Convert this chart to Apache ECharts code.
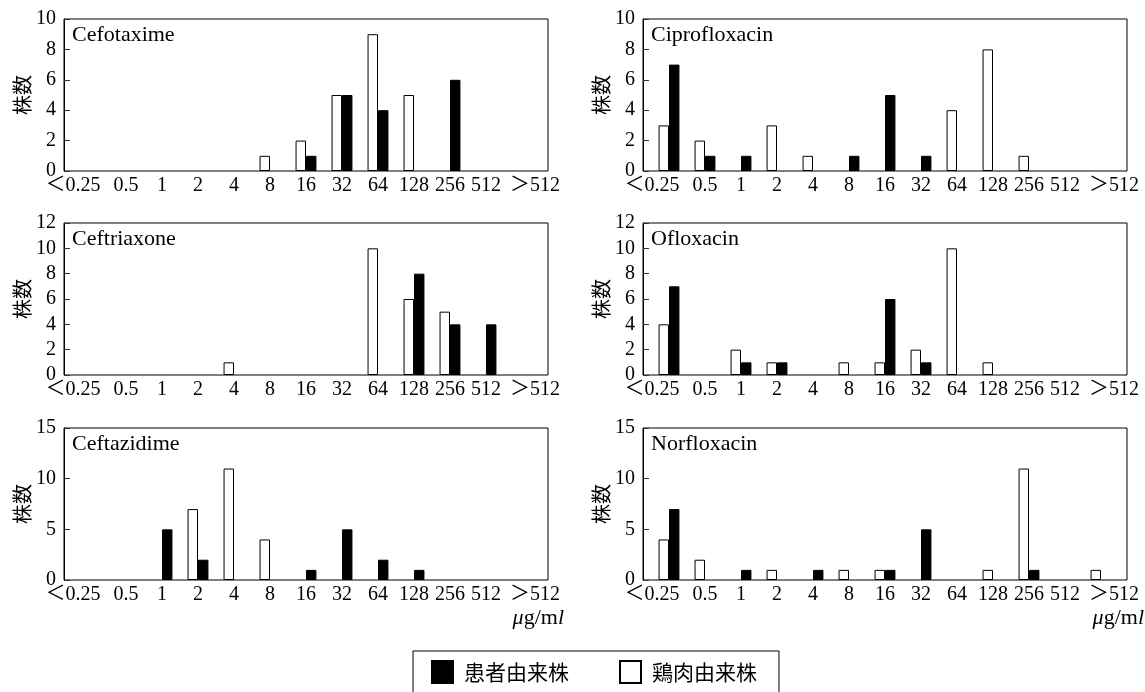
<!DOCTYPE html>
<html lang="ja">
<head>
<meta charset="utf-8">
<title>MIC distribution</title>
<script src="https://cdn.jsdelivr.net/npm/echarts@6/dist/echarts.min.js"></script>
<style>
  html, body { margin: 0; padding: 0; background: #fff; }
  #chart { width: 1145px; height: 692px; }
</style>
</head>
<body>
<div id="chart"></div>
<script>
const categories = ['＜0.25', '0.5', '1', '2', '4', '8', '16', '32', '64', '128', '256', '512', '＞512'];
const drugNames = ['Cefotaxime', 'Ciprofloxacin', 'Ceftriaxone', 'Ofloxacin', 'Ceftazidime', 'Norfloxacin'];

// 鶏肉由来株 (white) / 患者由来株 (black), counts per MIC category
const cefotaximeChicken = [0, 0, 0, 0, 0, 1, 2, 5, 9, 5, 0, 0, 0];
const cefotaximePatient = [0, 0, 0, 0, 0, 0, 1, 5, 4, 0, 6, 0, 0];
const ciprofloxacinChicken = [3, 2, 0, 3, 1, 0, 0, 0, 4, 8, 1, 0, 0];
const ciprofloxacinPatient = [7, 1, 1, 0, 0, 1, 5, 1, 0, 0, 0, 0, 0];
const ceftriaxoneChicken = [0, 0, 0, 0, 1, 0, 0, 0, 10, 6, 5, 0, 0];
const ceftriaxonePatient = [0, 0, 0, 0, 0, 0, 0, 0, 0, 8, 4, 4, 0];
const ofloxacinChicken = [4, 0, 2, 1, 0, 1, 1, 2, 10, 1, 0, 0, 0];
const ofloxacinPatient = [7, 0, 1, 1, 0, 0, 6, 1, 0, 0, 0, 0, 0];
const ceftazidimeChicken = [0, 0, 0, 7, 11, 4, 0, 0, 0, 0, 0, 0, 0];
const ceftazidimePatient = [0, 0, 5, 2, 0, 0, 1, 5, 2, 1, 0, 0, 0];
const norfloxacinChicken = [4, 2, 0, 1, 0, 1, 1, 0, 0, 1, 11, 0, 1];
const norfloxacinPatient = [7, 0, 1, 0, 1, 0, 1, 5, 0, 0, 1, 0, 0];

const yMax = [10, 10, 12, 12, 15, 15];
const yStep = [2, 2, 2, 2, 5, 5];

const chickenData = [cefotaximeChicken, ciprofloxacinChicken, ceftriaxoneChicken, ofloxacinChicken, ceftazidimeChicken, norfloxacinChicken];
const patientData = [cefotaximePatient, ciprofloxacinPatient, ceftriaxonePatient, ofloxacinPatient, ceftazidimePatient, norfloxacinPatient];

const SERIF = "'Liberation Serif', 'Noto Sans CJK JP', serif";
const CJK = "'Noto Sans CJK JP', sans-serif";

const panelLeft = [64, 643];
const panelTop = [19, 223, 428];
const panelWidth = 484;
const panelHeight = 152;
const inset = 8; // categories sit a little inside the frame

// zero counts are left empty so no flat bar outline is drawn
const bars = arr => arr.map(v => (v === 0 ? null : v));

// the two open-ended labels are pushed outward, as in the original figure
const labelFormatter = (value, index) => {
  if (index === 0) return '{first|' + value + '}';
  if (index === categories.length - 1) return '{last|' + value + '}';
  return value;
};

const chart = echarts.init(document.getElementById('chart'));

const grid = [], xAxis = [], yAxis = [], series = [], title = [];

drugNames.forEach((name, i) => {
  const left = panelLeft[i % 2];
  const top = panelTop[Math.floor(i / 2)];
  const frame = 2 * i;
  const plot = 2 * i + 1;

  // frame grid: box + y axis
  grid.push({
    left: left, top: top, width: panelWidth, height: panelHeight,
    show: true, borderColor: '#000', borderWidth: 1, backgroundColor: 'transparent'
  });
  // plot grid: categories and bars
  grid.push({
    left: left + inset, top: top, width: panelWidth - 2 * inset, height: panelHeight
  });

  title.push({
    text: name,
    left: left + 8,
    top: top + 5,
    padding: 0,
    textStyle: { fontFamily: SERIF, fontSize: 22, fontWeight: 'normal', color: '#000' }
  });

  xAxis.push({ type: 'value', gridIndex: frame, show: false });
  yAxis.push({
    type: 'value',
    gridIndex: frame,
    min: 0,
    max: yMax[i],
    interval: yStep[i],
    name: '株数',
    nameLocation: 'middle',
    nameRotate: 90,
    nameGap: 31,
    nameTextStyle: { fontFamily: CJK, fontSize: 20, color: '#000' },
    axisLine: { show: true, lineStyle: { color: '#000', width: 1 } },
    axisTick: { show: true, inside: true, length: 6, lineStyle: { color: '#333' } },
    splitLine: { show: false },
    axisLabel: { color: '#000', fontFamily: SERIF, fontSize: 20, margin: 8 }
  });

  xAxis.push({
    type: 'category',
    gridIndex: plot,
    data: categories,
    axisLine: { show: false },
    axisTick: { show: false },
    axisLabel: {
      color: '#000', fontFamily: SERIF, fontSize: 20, margin: 5, interval: 0,
      formatter: labelFormatter,
      rich: {
        first: { fontFamily: SERIF, fontSize: 20, color: '#000', padding: [0, 34, 0, 0] },
        last: { fontFamily: SERIF, fontSize: 20, color: '#000', padding: [0, 0, 0, 26] }
      }
    }
  });
  yAxis.push({ type: 'value', gridIndex: plot, min: 0, max: yMax[i], show: false, splitLine: { show: false } });

  series.push({
    name: '鶏肉由来株',
    type: 'bar',
    xAxisIndex: plot,
    yAxisIndex: plot,
    data: bars(chickenData[i]),
    barWidth: '29%',
    barGap: '0%',
    itemStyle: { color: '#fff', borderColor: '#000', borderWidth: 1 }
  });
  series.push({
    name: '患者由来株',
    type: 'bar',
    xAxisIndex: plot,
    yAxisIndex: plot,
    data: bars(patientData[i]),
    barWidth: '29%',
    barGap: '0%',
    itemStyle: { color: '#000', borderColor: '#000', borderWidth: 1 }
  });
});

// μg/ml unit under the bottom row
const unitText = (right) => ({
  type: 'text',
  right: right,
  top: 607,
  style: {
    text: '{i|μ}g/m{i|l}',
    fill: '#000',
    font: '22px ' + SERIF,
    rich: {
      i: { fontStyle: 'italic', fontFamily: SERIF, fontSize: 22, fill: '#000' }
    }
  }
});

const option = {
  animation: false,
  backgroundColor: '#fff',
  title: title,
  grid: grid,
  xAxis: xAxis,
  yAxis: yAxis,
  series: series,
  legend: {
    data: ['患者由来株', '鶏肉由来株'],
    left: 413,
    top: 651,
    orient: 'horizontal',
    icon: 'rect',
    itemWidth: 21,
    itemHeight: 22,
    itemGap: 50,
    padding: [9, 22, 9, 18],
    borderColor: '#000',
    borderWidth: 1,
    selectedMode: false,
    textStyle: { fontFamily: CJK, fontSize: 21, color: '#000', padding: [0, 0, 0, 6] }
  },
  graphic: [unitText(581), unitText(1)]
};

chart.setOption(option);
</script>
</body>
</html>
